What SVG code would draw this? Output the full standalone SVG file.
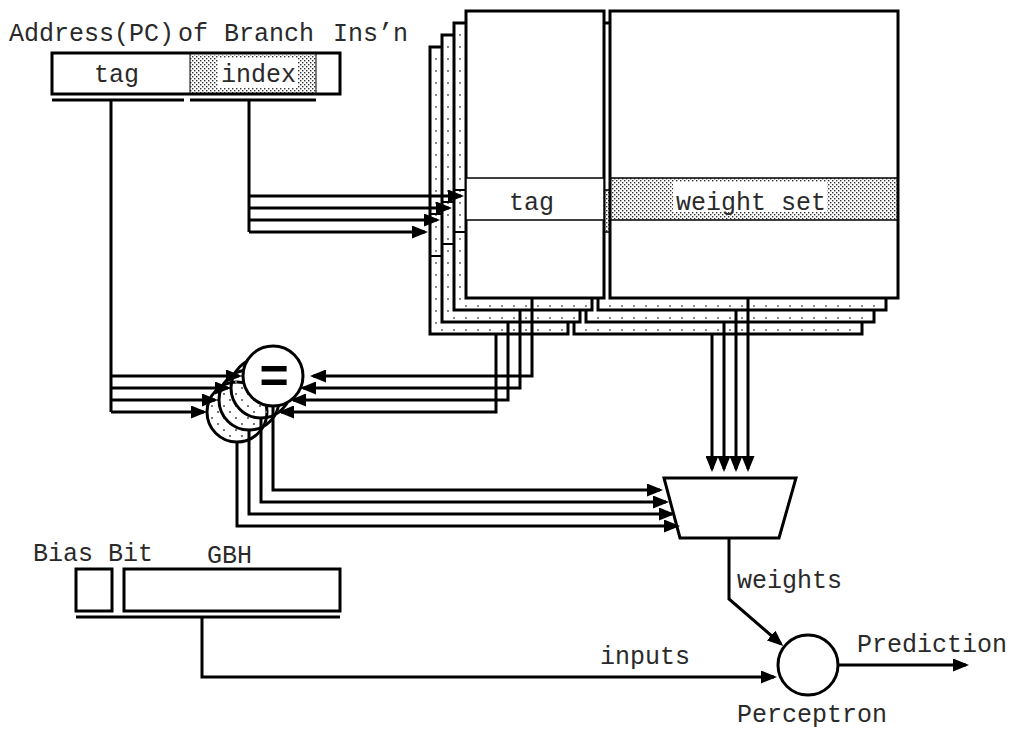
<svg xmlns="http://www.w3.org/2000/svg" width="1012" height="729" viewBox="0 0 1012 729">
<style>
.b{stroke:#000;stroke-width:3;fill:#fff}
.o{stroke:#000;stroke-width:3;fill:none}
.pa{fill:url(#pa)}
.pb{fill:url(#pb)}
.l{stroke:#000;stroke-width:2;fill:none}
.w{stroke:#000;stroke-width:1.5;fill:#fff}
.s{stroke:#000;stroke-width:1.5;fill:url(#dd)}
.f{fill:url(#dd)}
.cd{stroke:#000;stroke-width:3;fill:url(#cd)}
text{font-family:"Liberation Mono",monospace;font-size:25px;fill:#2a2a2a}
#c path{fill:none;stroke:#000;stroke-width:3}
.a{marker-end:url(#h)}
</style>
<defs>
<marker id="h" markerUnits="userSpaceOnUse" markerWidth="16" markerHeight="13" viewBox="0 0 16 13" refX="13" refY="6.5" orient="auto"><path d="M0 0L16 6.5L0 13z" fill="#000"/></marker>
<pattern id="pa" patternUnits="userSpaceOnUse" width="12" height="12" x="3" y="10"><rect width="2" height="2" fill="#888"/></pattern>
<pattern id="pb" patternUnits="userSpaceOnUse" width="12" height="12" x="9" y="5"><rect width="2" height="2" fill="#888"/></pattern>
<pattern id="cd" patternUnits="userSpaceOnUse" width="12" height="12" x="1" y="3"><rect width="2" height="2" fill="#777"/><rect x="6" y="6" width="2" height="2" fill="#777"/></pattern>
<pattern id="dd" patternUnits="userSpaceOnUse" width="4" height="4"><rect width="1.4" height="1.4" fill="#333"/><rect x="2" y="2" width="1.4" height="1.4" fill="#333"/></pattern>
</defs>
<rect width="1012" height="729" fill="#fff"/>
<g id="address">
<rect class="f" x="190" y="55" width="126" height="38"/>
<rect x="218" y="58" width="80" height="30" fill="#fff"/>
<rect class="o" x="52" y="53" width="288" height="41"/>
<path d="M190 53V94M316 53V94" stroke="#000" stroke-width="1"/>
<text x="9" y="41">Address(PC)<tspan x="178">of</tspan><tspan x="224">Branch</tspan><tspan x="333">Ins’n</tspan></text>
<text x="94" y="82">tag</text>
<text x="221" y="82">index</text>
<path d="M52 100H184M190 100H316" stroke="#000" stroke-width="3"/>
</g>
<g id="layer3">
<rect class="b" x="430" y="47" width="138" height="287"/>
<rect class="pa" x="432" y="49" width="10" height="283"/><rect class="pb" x="432" y="324" width="134" height="9"/>
<path class="l" d="M430 214H442M430 256H442"/>
<rect class="b" x="574" y="47" width="288" height="287"/>
<rect class="pb" x="576" y="324" width="284" height="9"/>
</g>
<g id="layer2">
<rect class="b" x="442" y="35" width="138" height="287"/>
<rect class="pa" x="444" y="37" width="10" height="283"/><rect class="pb" x="444" y="312" width="134" height="9"/>
<path class="l" d="M442 202H454M442 244H454"/>
<rect class="b" x="586" y="35" width="288" height="287"/>
<rect class="pb" x="588" y="312" width="284" height="9"/>
</g>
<g id="layer1">
<rect class="b" x="454" y="23" width="138" height="287"/>
<rect class="pa" x="456" y="25" width="10" height="283"/><rect class="pb" x="456" y="300" width="134" height="9"/>
<path class="l" d="M454 190H466M454 232H466"/>
<rect class="b" x="598" y="23" width="288" height="287"/>
<rect class="pb" x="600" y="300" width="284" height="9"/>
<rect class="s" x="598" y="190" width="288" height="42"/>
</g>
<g id="tag-front">
<rect class="b" x="466" y="11" width="138" height="287"/><rect class="w" x="466" y="178" width="138" height="42"/>
<text x="509" y="210">tag</text>
</g>
<g id="weight-front">
<rect class="b" x="610" y="11" width="288" height="287"/>
<rect class="s" x="610" y="178" width="288" height="42"/>
<rect x="673" y="182" width="154" height="30" fill="#fff"/>
<text x="676" y="210">weight set</text>
</g>
<g id="comparators">
<circle class="cd" cx="237" cy="412" r="30"/>
<circle class="cd" cx="249" cy="400" r="30"/>
<circle class="cd" cx="261" cy="388" r="30"/>
<circle class="b" cx="273" cy="376" r="30"/>
<text x="274" y="393" text-anchor="middle" style="font:bold 50px 'Liberation Sans',sans-serif;fill:#000">=</text>
</g>
<g id="mux"><path class="b" d="M664 478H796L779 538H680z"/></g>
<g id="bias"><rect class="b" x="76" y="569" width="36" height="42"/><text x="33" y="561">Bias Bit</text></g>
<g id="gbh"><rect class="b" x="124" y="569" width="216" height="42"/><text x="207" y="563">GBH</text><path d="M76 617H340" stroke="#000" stroke-width="3"/></g>
<g id="perceptron"><circle class="b" cx="808" cy="665" r="30"/><text x="737" y="722">Perceptron</text></g>
<g id="c">
<path d="M249 100V232"/>
<path class="a" d="M249 196H461"/><path class="a" d="M249 208H449"/><path class="a" d="M249 220H437"/><path class="a" d="M249 232H425"/>
<path d="M111 100V412"/>
<path class="a" d="M111 376H239"/><path class="a" d="M111 388H228"/><path class="a" d="M111 400H215"/><path class="a" d="M111 412H204"/>
<path class="a" d="M532 298V376H313"/><path class="a" d="M520 310V388H303"/><path class="a" d="M508 322V400H293"/><path class="a" d="M496 334V412H281"/>
<path class="a" d="M748 298V469"/><path class="a" d="M736 310V469"/><path class="a" d="M724 322V469"/><path class="a" d="M712 334V469"/>
<path class="a" d="M273 406V490H660"/><path class="a" d="M261 418V502H666"/><path class="a" d="M249 430V514H672"/><path class="a" d="M237 442V526H677"/>
<path class="a" d="M729 538V599L781 644"/>
<path class="a" d="M202 617V677H774"/>
<path class="a" d="M838 665H966"/>
</g>
<text x="737" y="588">weights</text>
<text x="600" y="664">inputs</text>
<text x="857" y="652">Prediction</text>
</svg>
